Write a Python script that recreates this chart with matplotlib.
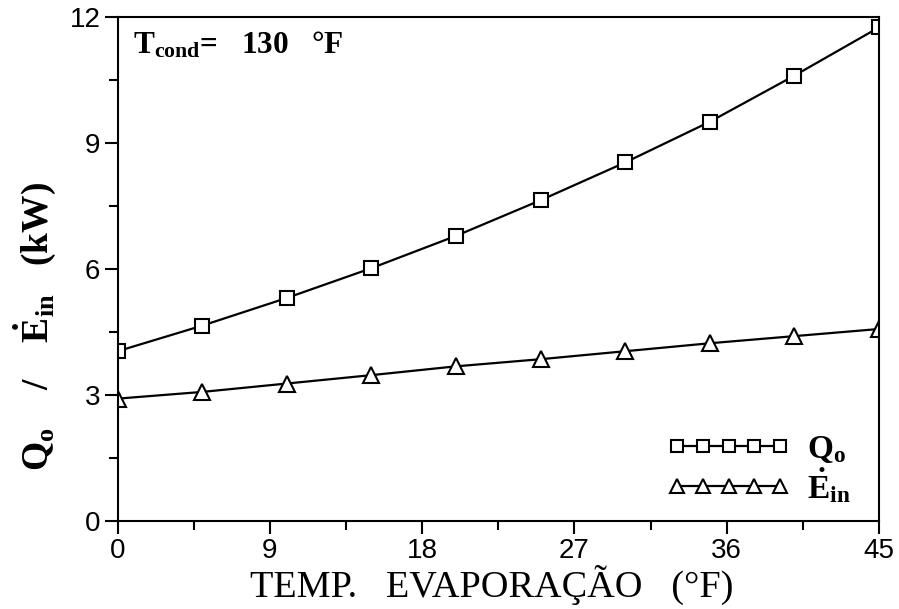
import matplotlib
matplotlib.use("Agg")
import matplotlib.pyplot as plt
from matplotlib.ticker import MultipleLocator

plt.rcParams['mathtext.fontset'] = 'custom'
plt.rcParams['mathtext.rm'] = 'Liberation Serif:bold'
plt.rcParams['mathtext.bf'] = 'Liberation Serif:bold'
plt.rcParams['mathtext.it'] = 'Liberation Serif:bold'

# Evaporating temperature (°F)
t_evap = [0, 5, 10, 15, 20, 25, 30, 35, 40, 45]
# Cooling capacity Q_o (kW)
q_o = [4.04, 4.65, 5.31, 6.02, 6.79, 7.64, 8.54, 9.51, 10.61, 11.76]
# Power input E_in (kW)
e_in = [2.91, 3.07, 3.27, 3.47, 3.68, 3.85, 4.04, 4.23, 4.40, 4.57]

x_ticks = [0, 9, 18, 27, 36, 45]
y_ticks = [0, 3, 6, 9, 12]

W, H = 899, 609
fig = plt.figure(figsize=(W / 100, H / 100), dpi=100)
ax = fig.add_axes([117.7 / W, 1 - 520.7 / H, 761.3 / W, 503.4 / H])

ax.plot(t_evap, q_o, color='black', lw=1.6, marker='s', ms=9.5,
        mfc='white', mec='black', mew=1.5, label=r'$\mathbf{Q_o}$')
ax.plot(t_evap, e_in, color='black', lw=1.6, marker='^', ms=11,
        mfc='white', mec='black', mew=1.5, label=r'$\mathbf{\dot{E}_{in}}$')

ax.set_xlim(0, 45)
ax.set_ylim(0, 12)
ax.set_xticks(x_ticks)
ax.set_yticks(y_ticks)
ax.xaxis.set_minor_locator(MultipleLocator(4.5))
ax.yaxis.set_minor_locator(MultipleLocator(1.5))
ax.tick_params(which='both', direction='out', width=1.5, top=False, right=False)
ax.tick_params(which='major', length=9.5, labelsize=20, pad=3)
ax.tick_params(which='minor', length=6.5)
for lbl in ax.get_xticklabels() + ax.get_yticklabels():
    lbl.set_family('Liberation Sans')
for s in ax.spines.values():
    s.set_linewidth(1.5)

# Axis titles
fig.text(491.5 / W, 1 - 597 / H, 'TEMP.   EVAPORAÇÃO   (°F)',
         family='Liberation Serif', fontsize=27.5, ha='center', va='baseline')
fig.text(35 / W, 1 - 326.5 / H,
         r'$\mathbf{Q_o}$    /    $\mathbf{\dot{E}_{in}}$   (kW)',
         family='Liberation Serif', fontweight='bold', fontsize=27,
         rotation=90, ha='center', va='center')

ax.text((133 - 117.7) / 761.3, (520.7 - 53) / 503.4,
        r'T$_{\mathbf{cond}}$=   130   °F', transform=ax.transAxes,
        family='Liberation Serif', fontweight='bold', fontsize=22.5,
        ha='left', va='baseline')

leg = ax.legend(loc='upper left', bbox_to_anchor=((667 - 117.7) / 761.3, (520.7 - 434) / 503.4),
                borderaxespad=0, borderpad=0, frameon=False,
                numpoints=5, handlelength=3.7, handletextpad=0.5,
                labelspacing=0.0, prop={'family': 'Liberation Serif',
                                        'weight': 'bold', 'size': 24},
                markerscale=0.9)

fig.savefig('out.png', dpi=100)
